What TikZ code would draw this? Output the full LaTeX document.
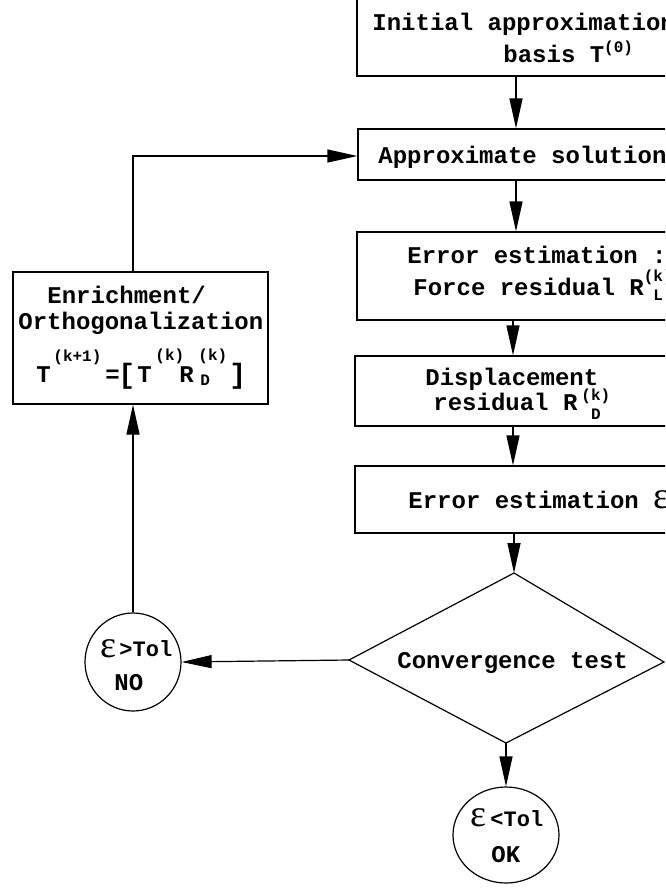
\documentclass[tikz,border=0pt]{standalone}
\usepackage{fontspec}
\setmainfont{Liberation Mono}
\newfontfamily\grk{Liberation Serif}
\usetikzlibrary{arrows.meta,shapes.geometric}
\newcommand\sm[1]{{\fontsize{8}{8}\selectfont #1}}
\newcommand\eps{{\grk\mdseries\fontsize{19}{19}\selectfont ε}}
\begin{document}
\begin{tikzpicture}[x=0.5pt,y=-0.5pt,
  box/.style={draw, line width=0.6pt, rectangle, inner sep=0},
  circ/.style={draw, line width=0.6pt, ellipse, inner sep=0},
  txt/.style={anchor=base west, inner sep=0, font=\fontsize{12}{12}\selectfont\bfseries},
  txs/.style={txt, font=\fontsize{11}{11}\selectfont\bfseries},
  big/.style={txt, font=\fontsize{14}{14}\selectfont\bfseries},
  arr/.style={line width=0.6pt, -{Triangle[length=15pt,width=6.5pt]}},
  ln/.style={line width=0.6pt}]
\path[use as bounding box] (0,0) rectangle (665,890);
\clip (0,0) rectangle (665,890);
% boxes
\node[box, minimum width=166.5pt, minimum height=43pt] (b1) at (523.5,33) {};
\node[box, minimum width=166pt, minimum height=25.5pt] (b2) at (524,154.5) {};
\node[box, minimum width=166.5pt, minimum height=44pt] (b3) at (523.5,276) {};
\node[box, minimum width=167.5pt, minimum height=35pt] (b4) at (522.5,391) {};
\node[box, minimum width=167.5pt, minimum height=33.5pt] (b5) at (522.5,499.5) {};
\node[box, minimum width=127.5pt, minimum height=66pt] (enr) at (140.5,338) {};
% texts in boxes
\node[txt] (t1a) at (372,30) {Initial approximation};
\node[txt] (t1b) at (503,62) {basis T\raisebox{5pt}{\sm{(0)}}};
\node[txt] (t2) at (378,163) {Approximate solution};
\node[txt] (t3a) at (407,263) {Error estimation :};
\node[txt] (t3b) at (413,295) {Force residual R\rlap{\raisebox{7pt}{\sm{(k)}}}\raisebox{-2.5pt}{\sm{\phantom{(}L}}};
\node[txt] (t4a) at (425,385) {Displacement};
\node[txt] (t4b) at (433,410) {residual R\,\rlap{\raisebox{5pt}{\sm{(k)}}}\raisebox{-4.5pt}{\sm{\phantom{(}D}}};
\node[txt] (t5) at (408,508) {Error estimation \eps};
% enrichment text
\node[txt] (e1) at (47,303) {Enrichment/};
\node[txt] (e2) at (18,329) {Orthogonalization};
\node[txt] (f1) at (36,382) {T};
\node[txt] (f2) at (53,361) {\sm{(k+1)}};
\node[txt] (f3) at (105,382) {=};
\node[big] (f4) at (118,383) {[};
\node[txt] (f5) at (137,382) {T};
\node[txt] (f6) at (155,360) {\sm{(k)}};
\node[txt] (f7) at (179,382) {R};
\node[txt] (f8) at (198,360) {\sm{(k)}};
\node[txt] (f9) at (200,385) {\sm{D}};
\node[big] (f10) at (229,383) {]};
% diamond
\coordinate (dT) at (514,573);
\coordinate (dL) at (349,660);
\coordinate (dR) at (664,662);
\coordinate (dB) at (506,743);
\draw[ln] (dT) -- (dR) -- (dB) -- (dL) -- cycle;
\node[txt] (ct) at (397,668) {Convergence test};
% circles
\node[circ, minimum width=48pt, minimum height=49pt] (no) at (133,662) {};
\node[txt] (no1) at (100,657) {\eps};
\node[txs] (no2) at (119,656) {>Tol};
\node[txt] (no3) at (114,690) {NO};
\node[circ, minimum width=53pt, minimum height=48pt] (ok) at (506,835) {};
\node[txt] (ok1) at (470,826) {\eps};
\node[txs] (ok2) at (490,826) {<Tol};
\node[txt] (ok3) at (491,862) {OK};
% connectors
\coordinate (ax) at (516,0);
\coordinate (ax2) at (513,0);
\draw[arr] (b1.south -| ax) -- (b2.north -| ax);
\draw[arr] (b2.south -| ax) -- (b3.north -| ax);
\draw[arr] (b3.south -| ax2) -- (b4.north -| ax2);
\draw[arr] (b4.south -| ax2) -- (b5.north -| ax2);
\draw[arr] (b5.south -| dT) -- (dT);
\draw[arr] (dL) -- (no.east);
\draw[arr] (dB) -- (ok.north);
\draw[arr] (no.north) -- (no.north |- enr.south);
\coordinate (cor) at (133,156);
\draw[arr] (enr.north -| cor) -- (cor) -- (cor -| b2.west);
\end{tikzpicture}
\end{document}
